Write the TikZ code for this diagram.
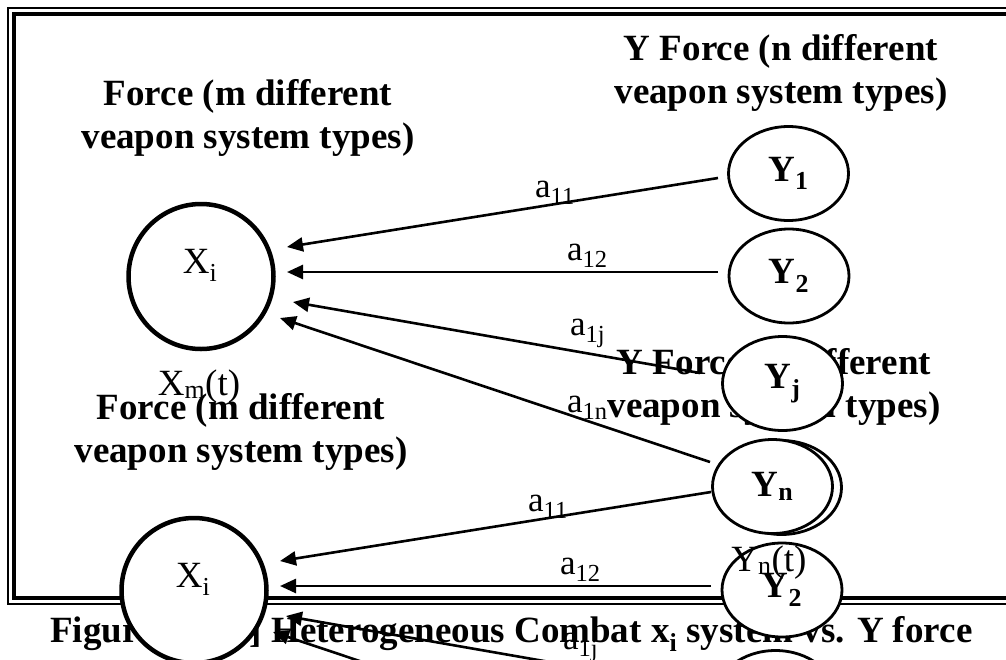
\documentclass[tikz,border=0pt]{standalone}
\usepackage{fontspec}
\setmainfont{Liberation Serif}
\usetikzlibrary{arrows.meta,shapes.geometric}
\newcommand\forcecopy[1]{%
  \node[title] (#1lt) at (248,148) {Force (m different\\veapon system types)};
  \node[title] (#1rt) at (781,103) {Y Force (n different\\veapon system types)};
  \coordinate (#1s11) at (718,178); \coordinate (#1e11) at (287,247);
  \coordinate (#1s12) at (718,272); \coordinate (#1e12) at (287,272);
  \coordinate (#1s1j) at (700,373); \coordinate (#1e1j) at (293,302);
  \coordinate (#1s1n) at (710,462); \coordinate (#1e1n) at (280,318);
  \draw[arr] (#1s11) -- (#1e11);
  \draw[arr] (#1s12) -- (#1e12);
  \draw[arr] (#1s1j) -- (#1e1j);
  \draw[arr] (#1s1n) -- (#1e1n);
  \node[albl] (#1l11) at (535,197) {a\textsubscript{11}};
  \node[albl] (#1l12) at (567,260) {a\textsubscript{12}};
  \node[albl] (#1l1j) at (570,335) {a\textsubscript{1j}};
  \node[albl] (#1l1n) at (567,412) {a\textsubscript{1n}};
  \node[xcirc] (#1x) at (201,276.5) {};
  \node[lbl] (#1xt) at (200,273) {X\textsubscript{i}};
  \node[lbl] (#1xm) at (199,395) {X\textsubscript{m}(t)};
  \node[yell] (#1y1) at (788.5,173.5) {Y\textsubscript{1}};
  \node[yell] (#1y2) at (789,276) {Y\textsubscript{2}};
  \node[yell] (#1yj) at (782.5,383.5) {Y\textsubscript{j}};
  \node[yell] (#1yn) at (772.5,486.5) {Y\textsubscript{n}};
  \node[lbl] (#1ynt) at (769,571) {Y\textsubscript{n}(t)};
}
\begin{document}
\begin{tikzpicture}[x=1pt,y=-1pt,
  title/.style={font=\bfseries\fontsize{37}{43}\selectfont, align=center, inner sep=0pt, anchor=base},
  lbl/.style={font=\fontsize{37}{43}\selectfont, inner sep=0pt, anchor=base},
  albl/.style={font=\fontsize{35}{42}\selectfont, inner sep=0pt, anchor=base west},
  xcirc/.style={circle, draw, line width=4.5pt, fill=white, minimum size=145pt, inner sep=0pt},
  yell/.style={ellipse, draw, line width=2.8pt, fill=white, minimum width=120pt, minimum height=94pt, inner sep=0pt, font=\bfseries\fontsize{37}{43}\selectfont},
  arr/.style={line width=2.6pt, -{Triangle[length=16pt,width=14pt]}},
  thickframe/.style={draw, line width=4.5pt},
  thinframe/.style={draw, line width=1.2pt}]
\useasboundingbox (0,0) rectangle (1006,659);
\fill[white] (0,0) rectangle (1006,659);
% frame
\draw[thinframe] (1040,8) -- (8,8) -- (8,604) -- (1040,604);
\draw[thickframe] (1040,13.8) -- (13.8,13.8) -- (13.8,598) -- (1040,598);
% caption
\node[font=\bfseries\fontsize{37}{43}\selectfont, inner sep=0pt, anchor=base west] (cap) at (50,642)
  {Figure 2.1 [1] Heterogeneous Combat x\textsubscript{i} system vs. Y force};
\begin{scope}[shift={(-7,314)}]
  \forcecopy{b}
\end{scope}
\forcecopy{a}
\end{tikzpicture}
\end{document}
